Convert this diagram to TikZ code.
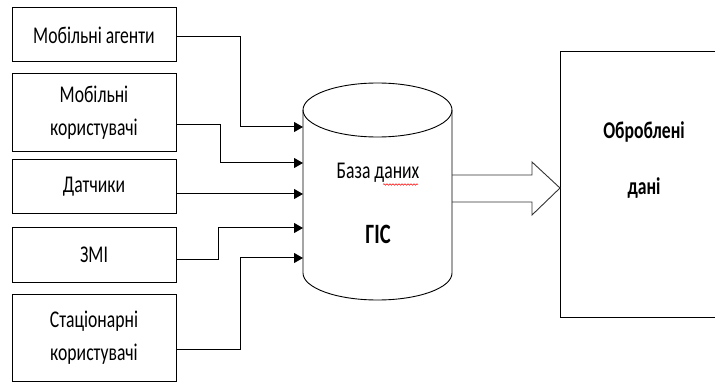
\documentclass[tikz,border=0pt]{standalone}
\usepackage{fontspec}
\setmainfont{Carlito}[FakeStretch=0.735]
\usetikzlibrary{arrows.meta,calc,decorations.pathmorphing}
\begin{document}
\begin{tikzpicture}[x=1pt,y=-1pt,
  box/.style={draw,line width=1pt,minimum width=164pt,inner sep=0pt,align=center,
    font=\fontsize{24}{33}\selectfont},
  conn/.style={line width=1pt,-{Triangle[length=9pt,width=10pt]}},
  lbl/.style={inner sep=0pt,font=\fontsize{24}{28}\selectfont}]
\useasboundingbox (0,0) rectangle (715,382);
% left boxes
\node[box,minimum height=54pt] (m1) at (94,35) {Мобільні агенти};
\node[box,minimum height=78pt] (m2) at (94,113) {Мобільні\\користувачі};
\node[box,minimum height=54pt] (m3) at (94,187) {Датчики};
\node[box,minimum height=54pt] (m4) at (94,255) {ЗМІ};
\node[box,minimum height=87pt] (m5) at (94,337.5) {Стаціонарні\\користувачі};
% cylinder
\draw[line width=0.9pt] (377.5,110) ellipse [x radius=74.5pt,y radius=27pt];
\draw[line width=0.9pt] (303,110) -- (303,273) arc [start angle=180,end angle=360,x radius=74.5pt,y radius=27pt] -- (452,110);
\node[lbl] (db) at (378,173) {База даних};
\draw[red,line width=0.5pt,decorate,decoration={snake,amplitude=0.8pt,segment length=3pt}] (383,184.5) -- (418,184.5);
\node[lbl,font=\fontsize{28}{32}\selectfont\bfseries] (gis) at (378,234) {ГІС};
% input points
\coordinate (in1) at (303,127);
\coordinate (in2) at (303,163);
\coordinate (in3) at (303,194);
\coordinate (in4) at (303,228);
\coordinate (in5) at (303,258);
% connectors
\draw[conn] ([yshift=-2pt]m1.east) -| ([xshift=-63pt]in1) -- (in1);
\draw[conn] ([yshift=-12pt]m2.east) -| ([xshift=-83pt]in2) -- (in2);
\draw[conn] ([yshift=-7pt]m3.east) -- (in3);
\draw[conn] ([yshift=-5pt]m4.east) -| ([xshift=-85pt]in4) -- (in4);
\draw[conn] ([yshift=-11.5pt]m5.east) -| ([xshift=-63pt]in5) -- (in5);
% right box
\node[draw,line width=1pt,minimum width=170pt,minimum height=266pt,inner sep=0pt,anchor=north west] (out) at (560,51) {};
\node[lbl,font=\fontsize{24}{28}\selectfont\bfseries] (t1) at (644,132) {Оброблені};
\node[lbl,font=\fontsize{24}{28}\selectfont\bfseries] (t2) at (644,188) {дані};
% big arrow
\draw[line width=0.9pt,black!80] (452,175) -- (532,175) -- (532,162) -- (out.west |- 0,188) -- (532,215) -- (532,202) -- (452,202);
\end{tikzpicture}
\end{document}
